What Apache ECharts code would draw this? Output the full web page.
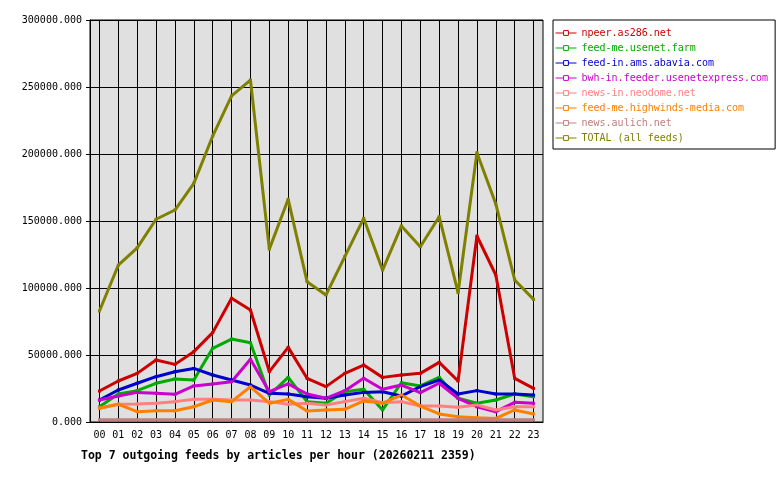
<!DOCTYPE html>
<html>
<head>
<meta charset="utf-8">
<script src="https://cdn.jsdelivr.net/npm/echarts@6/dist/echarts.min.js"></script>
<style>
  html, body { margin: 0; padding: 0; background: #fff; }
  #main { width: 780px; height: 480px; }
</style>
</head>
<body>
<div id="main"></div>
<script>
// hours of the day
var hours = ['00','01','02','03','04','05','06','07','08','09','10','11',
             '12','13','14','15','16','17','18','19','20','21','22','23'];

// articles per hour
var npeer     = [23100, 30600, 36300, 46300, 43000, 52500, 66700, 92300, 83600, 37600, 55700, 32600,
                 26400, 36300, 42500, 33300, 35100, 36300, 44500, 30600, 138800, 109700, 32600, 25100];
var usenetFarm = [11400, 20900, 23400, 28900, 32100, 31300, 55000, 61900, 59200, 20100, 33300, 15200,
                 14000, 22600, 24400, 9000, 29300, 26900, 33300, 17700, 14000, 16400, 20900, 18900];
var abavia    = [16400, 23900, 28900, 33800, 37500, 40000, 35100, 31300, 27600, 21400, 20900, 18900,
                 17700, 20100, 22100, 22600, 19400, 26400, 31300, 20900, 23400, 20900, 20900, 20100];
var usenetExpress = [16400, 19400, 22100, 21400, 20700, 26900, 28400, 30100, 46800, 22600, 28400, 20900,
                 17700, 23400, 32600, 24400, 27600, 21900, 28900, 17700, 11400, 7700, 14700, 14000];
var neodome   = [10500, 13200, 13400, 14000, 15200, 16900, 16900, 16400, 16400, 15200, 13200, 14000,
                 12700, 15200, 17700, 14400, 15200, 11900, 11900, 11000, 12700, 9000, 11400, 11400];
var highwinds = [10200, 13200, 7700, 8400, 8400, 11400, 16400, 15200, 26300, 14000, 16900, 8200,
                 9000, 9500, 15700, 14000, 20100, 11900, 6000, 4000, 3200, 2700, 9000, 6000];
var aulich    = [1600, 1600, 1600, 1600, 1600, 1600, 1600, 1600, 1600, 1600, 1600, 1600,
                 1600, 1600, 1600, 1600, 1600, 1600, 1600, 1600, 1600, 1600, 1600, 1600];
var total     = [82800, 117000, 130000, 151300, 158200, 178100, 213400, 243300, 255200, 129000, 166200, 104700,
                 94800, 123400, 152000, 113400, 146300, 130800, 153200, 96500, 201000, 162700, 106000, 91500];

var feedNames = ['npeer.as286.net', 'feed-me.usenet.farm', 'feed-in.ams.abavia.com',
                 'bwh-in.feeder.usenetexpress.com', 'news-in.neodome.net',
                 'feed-me.highwinds-media.com', 'news.aulich.net', 'TOTAL (all feeds)'];
var feedData = [npeer, usenetFarm, abavia, usenetExpress, neodome, highwinds, aulich, total];
var feedColors = ['#cc0000', '#00aa00', '#0000cc', '#cc00cc', '#ff8080', '#ff8000', '#c08080', '#808000'];

var monoFont = '"DejaVu Sans Mono", "Liberation Mono", monospace';

var chart = echarts.init(document.getElementById('main'));

var series = feedNames.map(function (name, i) {
    return {
        name: name,
        type: 'line',
        data: feedData[i],
        symbol: 'rect',
        symbolSize: 3,
        showSymbol: true,
        animation: false,
        itemStyle: { color: feedColors[i] },
        lineStyle: { color: feedColors[i], width: 3 },
        emphasis: { disabled: true }
    };
});

var option = {
    animation: false,
    textStyle: { fontFamily: monoFont },
    title: {
        text: 'Top 7 outgoing feeds by articles per hour (20260211 2359)',
        left: 76,
        top: 445,
        textStyle: { fontFamily: monoFont, fontSize: 11.5, fontWeight: 'bold', color: '#000' }
    },
    legend: {
        orient: 'vertical',
        left: 553,
        top: 20,
        padding: [8, 7, 6, 2],
        itemWidth: 21,
        itemHeight: 6,
        itemGap: 5,
        borderColor: '#000',
        borderWidth: 1,
        selectedMode: false,
        lineStyle: { width: 1 },
        data: feedNames.map(function (n, i) {
            return {
                name: n,
                textStyle: { color: feedColors[i] },
                itemStyle: { color: '#fff', borderColor: feedColors[i], borderWidth: 1 }
            };
        }),
        textStyle: { fontFamily: monoFont, fontSize: 10 }
    },
    grid: {
        left: 90,
        right: 237,
        top: 20,
        bottom: 58,
        show: true,
        backgroundColor: '#e0e0e0',
        borderColor: '#000',
        borderWidth: 1
    },
    xAxis: {
        type: 'category',
        data: hours,
        boundaryGap: true,
        axisLine: { lineStyle: { color: '#000', width: 1 } },
        axisTick: { alignWithLabel: true, length: 4, lineStyle: { color: '#000' } },
        axisLabel: { color: '#000', fontFamily: monoFont, fontSize: 10, margin: 8, interval: 0 },
        splitLine: { show: true, alignWithLabel: true, lineStyle: { color: '#000', width: 1 } }
    },
    yAxis: {
        type: 'value',
        min: 0,
        max: 300000,
        interval: 50000,
        axisLine: { show: true, lineStyle: { color: '#000' } },
        axisTick: { show: true, length: 4, lineStyle: { color: '#000' } },
        axisLabel: {
            color: '#000', fontFamily: monoFont, fontSize: 10, margin: 8,
            formatter: function (v) { return v.toFixed(3); }
        },
        splitLine: { show: true, lineStyle: { color: '#000', width: 1 } }
    },
    series: series
};

chart.setOption(option);

window.addEventListener('resize', function () {
    chart.resize();
});
</script>
</body>
</html>
